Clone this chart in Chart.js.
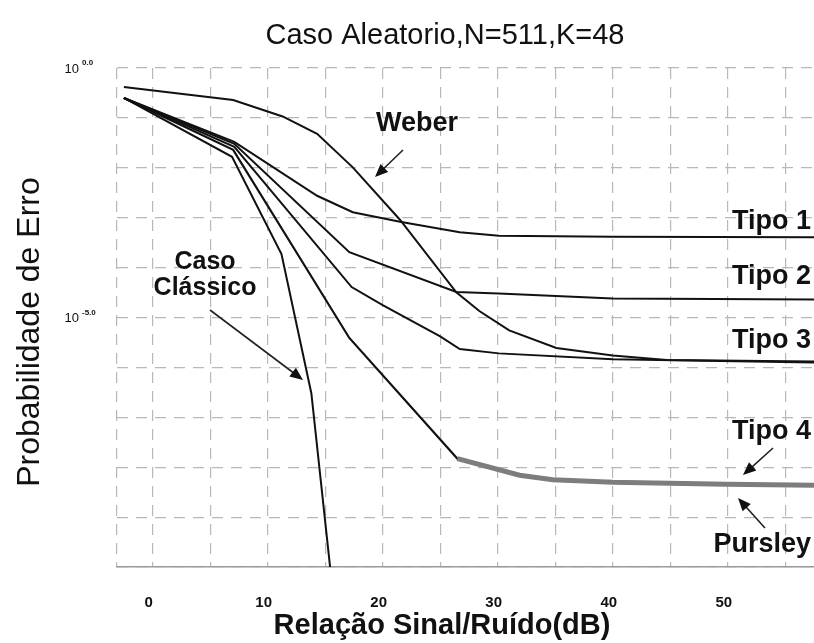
<!DOCTYPE html>
<html>
<head>
<meta charset="utf-8">
<script src="https://cdn.jsdelivr.net/npm/chart.js@4.4.0/dist/chart.umd.min.js"></script>
<style>
  html, body { margin: 0; padding: 0; background: #fff; }
  canvas { display: block; }
</style>
</head>
<body>
<canvas id="chart" width="814" height="643"></canvas>
<script>
// axes
const xMin = -3.1;
const xMax = 57.5;
const xGridLines = [-3.1, 0, 5, 10, 15, 20, 25, 30, 35, 40, 45, 50, 55];
const xTickLabels = [0, 10, 20, 30, 40, 50];
const yDecades = [1, 1e-1, 1e-2, 1e-3, 1e-4, 1e-5, 1e-6, 1e-7, 1e-8, 1e-9, 1e-10];
const yTickLabels = [[1, "0.0"], [1e-5, "-5.0"]];

// curves (SNR in dB, error probability)
const weberX = [-2.5, 7, 11.3, 14.3, 17.4, 21.5, 26.4, 28.4, 31, 35.1, 40, 44.7, 57.5];
const weberY = [0.417, 0.229, 0.107, 0.0479, 0.0102, 9.1e-4, 3.2e-5, 1.35e-5, 5.5e-6, 2.45e-6, 1.74e-6, 1.41e-6, 1.32e-6];

const tipo1X = [-2.5, 7.1, 14.3, 17.4, 21.5, 26.7, 30.1, 40, 57.5];
const tipo1Y = [0.251, 0.0331, 2.75e-3, 1.29e-3, 8.3e-4, 5.1e-4, 4.37e-4, 4.17e-4, 4.07e-4];

const tipo2X = [-2.5, 7.1, 17.1, 26.4, 30.1, 40, 57.5];
const tipo2Y = [0.251, 0.0302, 2.04e-4, 3.24e-5, 3.02e-5, 2.4e-5, 2.29e-5];

const tipo3X = [-2.5, 7.1, 17.3, 20, 25, 26.7, 30.1, 40, 57.5];
const tipo3Y = [0.251, 0.0263, 4.07e-5, 1.78e-5, 4.17e-6, 2.34e-6, 1.91e-6, 1.45e-6, 1.26e-6];

const tipo4X = [-2.5, 7, 17.1, 26.5, 31.9, 34.8, 40, 49.9, 57.5];
const tipo4Y = [0.251, 0.0229, 3.89e-6, 1.48e-8, 6.9e-9, 5.6e-9, 5.0e-9, 4.57e-9, 4.37e-9];

const pursleyX = [26.5, 31.9, 34.8, 40, 49.9, 57.5];
const pursleyY = [1.48e-8, 6.9e-9, 5.6e-9, 5.0e-9, 4.57e-9, 4.37e-9];

const classicoX = [-2.5, 6.9, 11.2, 13.8, 15.45];
const classicoY = [0.251, 0.0166, 1.86e-4, 3.0e-7, 8.9e-11];

function pts(xs, ys) {
    return xs.map((x, i) => ({ x: x, y: ys[i] }));
}

function curve(label, xs, ys, color, width, order) {
    return {
        label: label,
        data: pts(xs, ys),
        borderColor: color,
        borderWidth: width,
        pointRadius: 0,
        showLine: true,
        tension: 0,
        fill: false,
        order: order
    };
}

function arrow(ctx, x1, y1, x2, y2) {
    const a = Math.atan2(y2 - y1, x2 - x1);
    const len = 13, half = 5.5;
    ctx.beginPath();
    ctx.moveTo(x1, y1);
    ctx.lineTo(x2 - Math.cos(a) * len * 0.8, y2 - Math.sin(a) * len * 0.8);
    ctx.stroke();
    ctx.beginPath();
    ctx.moveTo(x2, y2);
    ctx.lineTo(x2 - Math.cos(a) * len + Math.sin(a) * half, y2 - Math.sin(a) * len - Math.cos(a) * half);
    ctx.lineTo(x2 - Math.cos(a) * len - Math.sin(a) * half, y2 - Math.sin(a) * len + Math.cos(a) * half);
    ctx.closePath();
    ctx.fill();
}

const overlay = {
    id: "overlay",
    afterDraw(chart) {
        const ctx = chart.ctx;
        const xs = chart.scales.x;
        const ys = chart.scales.y;
        ctx.save();
        ctx.fillStyle = "#111";
        ctx.strokeStyle = "#222";
        ctx.lineWidth = 1.6;

        // title
        ctx.textAlign = "center";
        ctx.textBaseline = "middle";
        ctx.font = "29px 'Liberation Sans', Arial, sans-serif";
        ctx.fillText("Caso Aleatorio,N=511,K=48", 445, 36);

        // x tick labels
        ctx.font = "bold 15px 'Liberation Sans', Arial, sans-serif";
        xTickLabels.forEach((v) => {
            ctx.fillText(String(v), xs.getPixelForValue(v) - 4, 603);
        });

        // x title
        ctx.font = "bold 29px 'Liberation Sans', Arial, sans-serif";
        ctx.fillText("Relação Sinal/Ruído(dB)", 442, 626);

        // y title
        ctx.save();
        ctx.translate(30, 332);
        ctx.rotate(-Math.PI / 2);
        ctx.font = "32px 'Liberation Sans', Arial, sans-serif";
        ctx.fillText("Probabilidade de Erro", 0, 0);
        ctx.restore();

        // y tick labels 10^e
        yTickLabels.forEach(([v, e]) => {
            const py = ys.getPixelForValue(v);
            ctx.textAlign = "right";
            ctx.font = "13px 'Liberation Sans', Arial, sans-serif";
            ctx.fillText("10", 79, py + 1);
            ctx.textAlign = "left";
            ctx.font = "bold 8px 'Liberation Sans', Arial, sans-serif";
            ctx.fillText(e, 82, py - 5);
        });

        // curve labels
        ctx.font = "bold 27px 'Liberation Sans', Arial, sans-serif";
        ctx.textAlign = "center";
        ctx.fillText("Weber", 417, 124);
        ctx.textAlign = "right";
        ctx.fillText("Tipo 1", 811, 222);
        ctx.fillText("Tipo 2", 811, 277);
        ctx.fillText("Tipo 3", 811, 341);
        ctx.fillText("Tipo 4", 811, 432);
        ctx.fillText("Pursley", 811, 545);
        ctx.textAlign = "center";
        ctx.font = "bold 25px 'Liberation Sans', Arial, sans-serif";
        ctx.fillText("Caso", 205, 262);
        ctx.fillText("Clássico", 205, 288);

        // arrows
        arrow(ctx, 403, 150, 375, 177);
        arrow(ctx, 210, 310, 303, 380);
        arrow(ctx, 773, 448, 743, 475);
        arrow(ctx, 765, 528, 738, 498);

        ctx.restore();
    }
};

new Chart(document.getElementById("chart"), {
    type: "scatter",
    data: {
        datasets: [
            curve("Pursley", pursleyX, pursleyY, "#7d7d7d", 5, 0),
            curve("Weber", weberX, weberY, "#111", 2, 1),
            curve("Tipo 1", tipo1X, tipo1Y, "#111", 2, 1),
            curve("Tipo 2", tipo2X, tipo2Y, "#111", 2, 1),
            curve("Tipo 3", tipo3X, tipo3Y, "#111", 2, 1),
            curve("Tipo 4", tipo4X, tipo4Y, "#111", 2.2, 1),
            curve("Caso Clássico", classicoX, classicoY, "#111", 2, 1)
        ]
    },
    options: {
        responsive: false,
        animation: false,
        layout: { padding: { left: 0, right: 0, top: 68, bottom: 0 } },
        plugins: {
            legend: { display: false },
            title: { display: false },
            tooltip: { enabled: false }
        },
        scales: {
            x: {
                type: "linear",
                min: xMin,
                max: xMax,
                afterBuildTicks: (scale) => {
                    scale.ticks = xGridLines.map((v) => ({ value: v }));
                },
                afterFit: (scale) => { scale.height = 76; },
                ticks: { display: false },
                grid: { color: "#b8b8b8", lineWidth: 1.2, drawTicks: false },
                border: { display: true, color: "#9a9a9a", width: 1.6, dash: [11, 8] }
            },
            y: {
                type: "logarithmic",
                min: 1e-10,
                max: 1,
                afterBuildTicks: (scale) => {
                    scale.ticks = yDecades.map((v) => ({ value: v }));
                },
                afterFit: (scale) => { scale.width = 117; },
                ticks: { display: false },
                grid: { color: "#b8b8b8", lineWidth: 1.2, drawTicks: false },
                border: { display: false, dash: [11, 8] }
            }
        }
    },
    plugins: [overlay]
});
</script>
</body>
</html>
